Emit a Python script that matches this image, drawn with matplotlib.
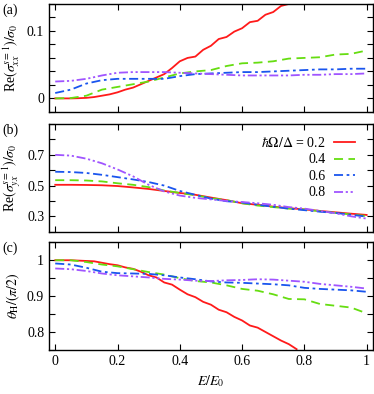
import numpy as np
import matplotlib
matplotlib.use('Agg')
import matplotlib.pyplot as plt
from matplotlib.ticker import MultipleLocator

plt.rcParams['font.family'] = ['Liberation Serif', 'DejaVu Serif']
plt.rcParams['mathtext.fontset'] = 'stix'
plt.rcParams['font.size'] = 10

# hbar*Omega/Delta values
omegas = ['0.2', '0.4', '0.6', '0.8']
colors = ['#ff1a1a', '#66dd11', '#1a55ee', '#a055ff']
styles = ['-', (0, (5, 3)), (0, (5, 2, 1.5, 2)), (0, (5, 1.5, 1.2, 1.5, 1.2, 1.5))]

# fine grid (red curves, wiggly)
xf = np.linspace(0, 0.775, 32)
# coarse grid (other curves)
xc = np.linspace(0, 1, 21)

# panel (a): Re(sigma_xx)/sigma_0
a_red = [0, 0, 0, 0.0003, 0.0008, 0.002, 0.004, 0.006, 0.009, 0.013, 0.016, 0.021,
         0.026, 0.031, 0.036, 0.045, 0.055, 0.060, 0.062, 0.072, 0.078, 0.088, 0.091,
         0.099, 0.104, 0.113, 0.115, 0.124, 0.128, 0.137, 0.140, 0.149]
a_green = [0, 0.0005, 0.004, 0.013, 0.017, 0.021, 0.025, 0.031, 0.037, 0.040, 0.042,
           0.048, 0.052, 0.053, 0.055, 0.059, 0.060, 0.061, 0.065, 0.066, 0.071]
a_blue = [0.008, 0.013, 0.022, 0.027, 0.029, 0.029, 0.029, 0.029, 0.033, 0.036, 0.037,
          0.038, 0.039, 0.039, 0.040, 0.041, 0.042, 0.043, 0.043, 0.044, 0.044]
a_purple = [0.025, 0.026, 0.029, 0.034, 0.038, 0.039, 0.039, 0.039, 0.038, 0.037, 0.036,
            0.035, 0.034, 0.034, 0.034, 0.034, 0.035, 0.035, 0.036, 0.036, 0.037]

# panel (b): Re(sigma_yx)/sigma_0
b_red = [0.505, 0.505, 0.504, 0.502, 0.497, 0.488, 0.478, 0.465, 0.452, 0.440, 0.422,
         0.405, 0.385, 0.375, 0.363, 0.353, 0.345, 0.335, 0.326, 0.317, 0.309]
b_green = [0.535, 0.535, 0.533, 0.527, 0.515, 0.505, 0.490, 0.468, 0.452, 0.437, 0.418,
           0.405, 0.385, 0.370, 0.360, 0.350, 0.345, 0.333, 0.322, 0.312, 0.302]
b_blue = [0.590, 0.588, 0.582, 0.570, 0.555, 0.540, 0.523, 0.500, 0.465, 0.440, 0.415,
          0.398, 0.390, 0.375, 0.362, 0.350, 0.340, 0.330, 0.322, 0.310, 0.298]
b_purple = [0.700, 0.695, 0.675, 0.645, 0.605, 0.560, 0.505, 0.462, 0.435, 0.420, 0.410,
            0.400, 0.393, 0.385, 0.375, 0.360, 0.350, 0.335, 0.320, 0.300, 0.285]

# panel (c): theta_H/(pi/2)
c_red = [1.0, 1.0, 1.0, 0.999, 0.998, 0.997, 0.993, 0.989, 0.986, 0.980, 0.976, 0.968,
         0.958, 0.952, 0.938, 0.932, 0.918, 0.905, 0.897, 0.884, 0.876, 0.862, 0.855,
         0.842, 0.832, 0.818, 0.812, 0.800, 0.788, 0.776, 0.766, 0.752]
c_green = [1.0, 1.0, 0.995, 0.988, 0.983, 0.975, 0.967, 0.960, 0.950, 0.942, 0.938,
           0.930, 0.920, 0.915, 0.905, 0.892, 0.891, 0.878, 0.873, 0.868, 0.852]
c_blue = [0.991, 0.988, 0.979, 0.968, 0.964, 0.963, 0.962, 0.958, 0.952, 0.947, 0.941,
          0.938, 0.937, 0.935, 0.933, 0.930, 0.923, 0.920, 0.918, 0.916, 0.912]
c_purple = [0.977, 0.975, 0.970, 0.963, 0.958, 0.955, 0.952, 0.948, 0.946, 0.943, 0.942,
            0.944, 0.945, 0.947, 0.946, 0.943, 0.940, 0.934, 0.930, 0.926, 0.921]

panels = [
    ([a_red, a_green, a_blue, a_purple], (-0.02, 0.14), [0, 0.1], 0.02,
     r'Re$(\sigma_{xx}^{s=1})/\sigma_0$', '(a)'),
    ([b_red, b_green, b_blue, b_purple], (0.2, 0.9), [0.3, 0.5, 0.7], 0.1,
     r'Re$(\sigma_{yx}^{s=1})/\sigma_0$', '(b)'),
    ([c_red, c_green, c_blue, c_purple], (0.75, 1.05), [0.8, 0.9, 1], 0.05,
     r'$\theta_{\rm H}/(\pi/2)$', '(c)'),
]

fig = plt.figure(figsize=(3.74, 3.94), dpi=100)
boxes = [(0.716, 0.990), (0.412, 0.685), (0.112, 0.385)]
left, right = 0.131, 0.997

for k, (series, ylim, yt, minor, ylab, tag) in enumerate(panels):
    b0, b1 = boxes[k]
    ax = fig.add_axes([left, b0, right - left, b1 - b0])
    for i, ys in enumerate(series):
        xs = xf if i == 0 and k != 1 else xc
        ax.plot(xs, ys, color=colors[i], ls=styles[i], lw=1.3,
                label=(r'$\hbar\Omega/\Delta$ = ' + omegas[i]) if i == 0 else omegas[i])
    ax.set_xlim(-0.02, 1.02)
    ax.set_ylim(*ylim)
    ax.set_yticks(yt)
    ax.set_yticklabels([('%g' % v) for v in yt])
    ax.yaxis.set_minor_locator(MultipleLocator(minor))
    ax.set_xticks([0, 0.2, 0.4, 0.6, 0.8, 1])
    ax.tick_params(which='both', direction='in', top=True, right=True, length=4, width=0.8)
    ax.tick_params(which='minor', length=4)
    for sp in ax.spines.values():
        sp.set_linewidth(1.0)
    ax.set_ylabel(ylab, fontsize=10)
    ax.yaxis.set_label_coords(-0.082, 0.5)
    fig.text(0.006, b1 + 0.002, tag, ha='left', va='top', fontsize=10)
    if k < 2:
        ax.set_xticklabels([])
    else:
        ax.set_xticklabels(['0', '0.2', '0.4', '0.6', '0.8', '1'])
        ax.set_xlabel(r'$E/E_0$', fontsize=10, labelpad=4)
    if k == 1:
        ax.legend(loc='upper right', bbox_to_anchor=(0.975, 0.98), frameon=False,
                  markerfirst=False, handlelength=1.5, handletextpad=0.6,
                  labelspacing=0.25, fontsize=10, borderpad=0.2)

fig.savefig('out.png', dpi=100)
